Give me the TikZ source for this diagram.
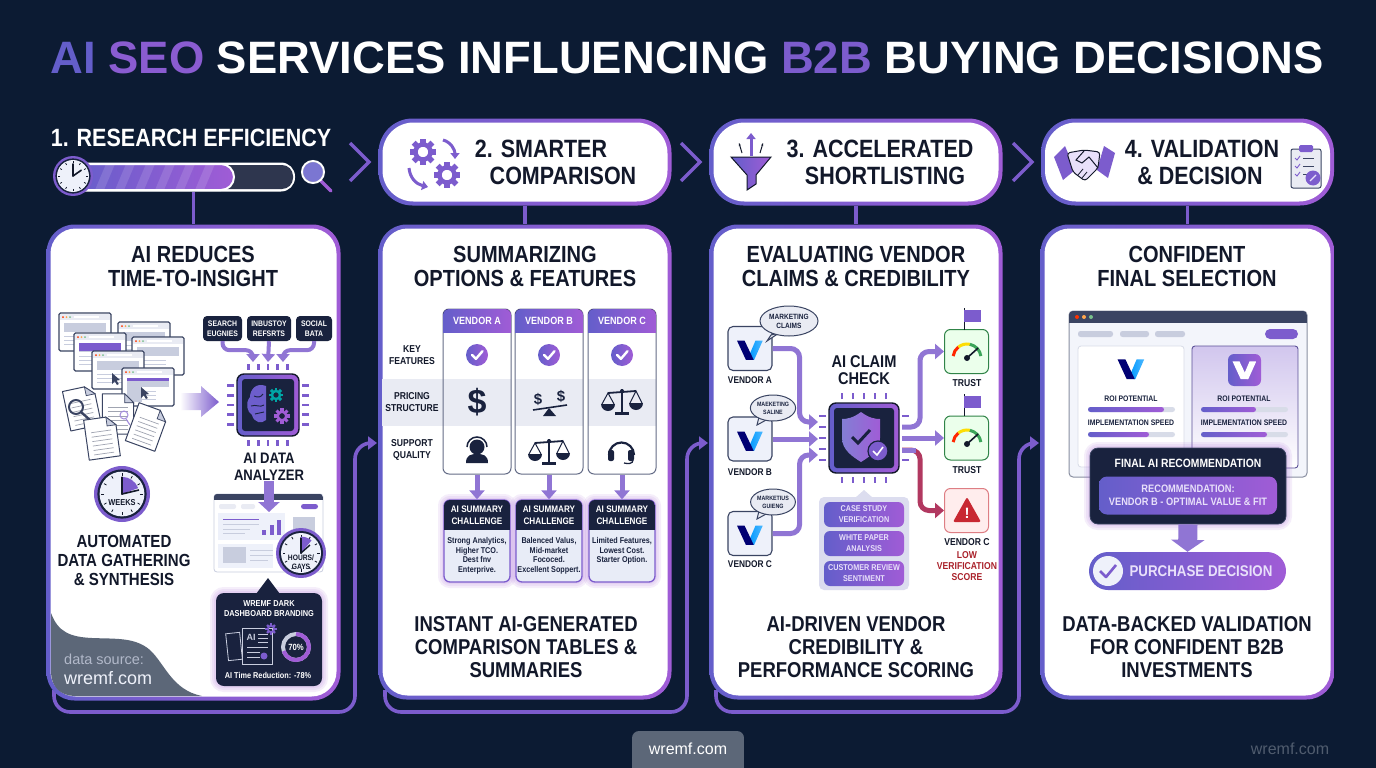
\documentclass[tikz,border=0pt]{standalone}
\usepackage{fontspec}
\setmainfont{Liberation Sans}
\newfontfamily\narrowfont[FakeStretch=0.86]{Liberation Sans}
\usetikzlibrary{arrows.meta,calc,shapes.geometric}
\definecolor{bgnavy}{RGB}{12,27,51}
\definecolor{inkdark}{RGB}{18,24,42}
\definecolor{blueV}{RGB}{100,94,202}
\definecolor{midV}{RGB}{124,92,205}
\definecolor{purpleV}{RGB}{160,92,214}
\definecolor{panelnavy}{RGB}{25,34,62}
\definecolor{slateline}{RGB}{58,68,98}
\definecolor{palegrey}{RGB}{200,205,222}
\definecolor{paleband}{RGB}{233,235,243}
\definecolor{paper}{RGB}{238,241,250}
\definecolor{lavtext}{RGB}{232,224,250}
\definecolor{sumbody}{RGB}{232,236,247}
\definecolor{patchgrey}{RGB}{92,103,120}
\definecolor{alertred}{RGB}{200,40,50}
\definecolor{okgreen}{RGB}{60,165,90}

% clipped top band of a rounded box
\newcommand{\headbox}[7]{%
  \begin{scope}
    \clip[rounded corners=#6] (#1,#2) rectangle (#3,#4);
    \fill[#7] (#1,#2) rectangle (#3,#5);
  \end{scope}}
\newcommand{\glowbox}[5]{%
  \foreach \gw in {12,8,4}{\draw[purpleV,opacity=.1,line width=\gw,rounded corners=#5] (#1,#2) rectangle (#3,#4);}}
% small browser window, 52 x 38
\newcommand{\winbox}[2]{%
  \begin{scope}[shift={(#1,#2)}]
    \draw[draw=slateline,fill=white,line width=1.1,rounded corners=1.5] (0,0) rectangle (52,38);
    \fill[paleband] (1,1) rectangle (51,7);
    \fill[red!60!orange] (4,4) circle (1);
    \fill[orange!70] (7.5,4) circle (1);
    \fill[okgreen!70] (11,4) circle (1);
    \fill[white] (15,2.6) rectangle (40,5.4);
    \fill[palegrey] (5,10) rectangle (47,19);
    \foreach \ly in {23,27,31}{\draw[palegrey,line width=.8] (5,\ly) -- (34,\ly);}
  \end{scope}}
\newcommand{\docsheet}[3]{%
  \begin{scope}[shift={(#1,#2)},rotate=#3,scale=1.12]
    \draw[draw=slateline,fill=white,line width=1,line join=round] (-14,-18) -- (6,-18) -- (14,-10) -- (14,18) -- (-14,18) -- cycle;
    \draw[draw=slateline,fill=palegrey,line width=.7] (6,-18) -- (6,-10) -- (14,-10) -- cycle;
    \foreach \ly in {-6,-2,2,6,10,14}{\draw[palegrey!80!black,line width=.7] (-9,\ly) -- (9,\ly);}
  \end{scope}}
\newcommand{\cursorarrow}[2]{%
  \fill[slateline] (#1,#2) -- (#1,#2+11) -- (#1+2.8,#2+8.4) -- (#1+5,#2+12) -- (#1+6.8,#2+11) -- (#1+4.6,#2+7.6) -- (#1+8,#2+7) -- cycle;}
\newcommand{\gearicon}[4]{%
  \foreach \ga in {0,45,...,315}{\draw[#4,line width=#3*.42] (#1,#2) ++(\ga:#3*.68) -- ++(\ga:#3*.34);}
  \draw[#4,line width=#3*.34] (#1,#2) circle ({#3*.58});}
% chip: name, x, y, half size
\newcommand{\chipbody}[4]{%
  \foreach \po in {-2,-1,0,1,2}{
    \draw[midV,line width=2.6] ($(#2,#3)+(\po*#4/3.2,-#4-4)$) -- ++(0,-6);
    \draw[midV,line width=2.6] ($(#2,#3)+(\po*#4/3.2,#4+4)$) -- ++(0,6);
    \draw[midV,line width=2.6] ($(#2,#3)+(-#4-3,\po*#4/3.2)$) -- ++(-7,0);
    \draw[midV,line width=2.6] ($(#2,#3)+(#4+3,\po*#4/3.2)$) -- ++(7,0);
  }
  \node[draw=inkdark,line width=1.4,left color=blueV,right color=purpleV,rounded corners=7,minimum size=2*#4] (#1) at (#2,#3) {};
  \fill[panelnavy,rounded corners=3] ($(#2,#3)+(-#4+5,-#4+5)$) rectangle ($(#2,#3)+(#4-5,#4-5)$);}
\newcommand{\clockface}[4]{%
  \fill[midV] (#1,#2) circle (#3);
  \fill[panelnavy] (#1,#2) circle ({#3*.88});
  \fill[paper] (#1,#2) circle ({#3*.8});
  \foreach \ca in {0,30,...,330}{\draw[inkdark,line width=.8] (#1,#2) ++(\ca:#3*.64) -- ++(\ca:#3*.1);}
  \draw[inkdark,line width=1.6,line cap=round] (#1,#2) -- ++(-90:#3*.6);
  \draw[inkdark,line width=1.6,line cap=round] (#1,#2) -- ++(#4:#3*.5);}
\newcommand{\clockwedge}[4]{%
  \fill[midV] (#1,#2) -- ++(-90:#3*.78) arc[start angle=-90,end angle=#4,radius=#3*.78] -- cycle;}
\newcommand{\vlogo}[5]{%
  \begin{scope}[shift={(#1,#2)},scale=#3]
    \shade[left color=#5,right color=#5!70!white] (.98,-.72) -- (.42,-.72) -- (-.1,.5) -- (.2,.75) -- (.32,.75) -- cycle;
    \fill[#4] (-1,-.72) -- (-.42,-.72) -- (.28,.75) -- (-.32,.75) -- cycle;
  \end{scope}}
\newcommand{\gaugeicon}[2]{%
  \draw[red!70!orange,line width=3] (#1,#2) ++(188:14) arc[start angle=188,end angle=232,radius=14];
  \draw[yellow!80!orange,line width=3] (#1,#2) ++(232:14) arc[start angle=232,end angle=282,radius=14];
  \draw[okgreen,line width=3] (#1,#2) ++(282:14) arc[start angle=282,end angle=352,radius=14];
  \draw[inkdark,line width=1.6] (#1,#2) -- ++(318:15);
  \fill[inkdark] (#1,#2) circle (3);}
\newcommand{\scaleicon}[2]{%
  \draw[panelnavy,line width=2] (#1,#2-13) -- (#1,#2+11);
  \fill[panelnavy] (#1-7,#2+10) rectangle (#1+7,#2+13);
  \draw[panelnavy,line width=1.8] (#1-14,#2-9) -- (#1+14,#2-11);
  \fill[panelnavy] (#1,#2-11) circle (2);
  \draw[panelnavy,line width=1] (#1-20,#2+2) -- (#1-14,#2-9) -- (#1-8,#2+2);
  \draw[panelnavy,line width=1] (#1+20,#2+1) -- (#1+14,#2-11) -- (#1+8,#2+1);
  \fill[panelnavy] (#1-21,#2+2) arc[start angle=180,end angle=0,radius=7];
  \fill[panelnavy] (#1+7,#2+1) arc[start angle=180,end angle=0,radius=7];}
\newcommand{\checkbadge}[3]{%
  \shade[left color=blueV,right color=purpleV] (#1,#2) circle (#3);
  \draw[white,line width=#3*.22,line cap=round,line join=round] (#1-#3*.45,#2) -- (#1-#3*.1,#2+#3*.35) -- (#1+#3*.5,#2-#3*.35);}

\begin{document}
\begin{tikzpicture}[x=1pt,y=-1pt]

\tikzstyle{mainhead} = [font=\fontsize{45.4}{50}\selectfont\bfseries, inner sep=0, text=white]
\tikzstyle{stephead} = [font=\fontsize{25}{27}\selectfont\bfseries\narrowfont, inner sep=0, text=inkdark, align=center]
\tikzstyle{cardtitle} = [font=\fontsize{23.3}{24}\selectfont\bfseries\narrowfont, inner sep=0, text=inkdark, align=center]
\tikzstyle{closetitle} = [font=\fontsize{21.5}{23}\selectfont\bfseries\narrowfont, inner sep=0, text=inkdark, align=center]
\tikzstyle{subtitle} = [font=\fontsize{17.5}{19}\selectfont\bfseries\narrowfont, inner sep=0, text=inkdark, align=center]
\tikzstyle{tagtext} = [font=\fontsize{10}{12}\selectfont\bfseries\narrowfont, inner sep=0, text=inkdark, align=center]
\tikzstyle{whitetag} = [tagtext, text=white]
\tikzstyle{sumtext} = [font=\fontsize{8.4}{9.6}\selectfont\bfseries\narrowfont, inner sep=0, text=panelnavy, align=center]
\tikzstyle{scoretext} = [sumtext, font=\fontsize{8}{9.6}\selectfont\bfseries\narrowfont]
\tikzstyle{cardouter} = [left color=blueV, right color=purpleV, rounded corners=28, inner sep=0]
\tikzstyle{cardinner} = [fill=white, rounded corners=25, inner sep=0]
\tikzstyle{pillouter} = [left color=blueV, right color=purpleV, rounded corners=34, minimum width=293, minimum height=87, inner sep=0]
\tikzstyle{pillinner} = [fill=white, rounded corners=31, minimum width=285, minimum height=79, inner sep=0]
\tikzstyle{tiebar} = [midV, line width=3.6]
\tikzstyle{backflow} = [midV, line width=3.6, rounded corners=16, -{Triangle[width=13pt,length=9pt]}]
\tikzstyle{chevron} = [midV, line width=3.4, line join=miter]
\tikzstyle{fatflow} = [midV!85!white, line width=5, rounded corners=9, -{Triangle[width=15pt,length=9pt]}]
\tikzstyle{thinflow} = [midV!85!white, line width=4, rounded corners=7, -{Triangle[width=13pt,length=8pt]}]
\tikzstyle{srcbox} = [fill=panelnavy, rounded corners=4, inner sep=0, minimum height=25, whitetag, font=\fontsize{8}{10.5}\selectfont\bfseries\narrowfont]
\tikzstyle{vendorbox} = [draw=slateline, line width=1.1, fill=paper, rounded corners=5, minimum size=44, inner sep=0]
\tikzstyle{claimcloud} = [draw=slateline, line width=1, fill=paleband, ellipse, inner sep=0, text=panelnavy, align=center, font=\fontsize{7.6}{9}\selectfont\bfseries\narrowfont]
\tikzstyle{sumbox} = [draw=midV, line width=1.3, fill=sumbody, rounded corners=6, minimum width=66, minimum height=82, inner sep=0]
\tikzstyle{colframe} = [draw=slateline!70!palegrey, line width=1, rounded corners=6, minimum width=68, minimum height=165, inner sep=0]
\tikzstyle{proofbtn} = [left color=blueV, right color=purpleV, rounded corners=6, minimum width=80, minimum height=25, inner sep=0, text=lavtext, align=center, font=\fontsize{8.4}{11}\selectfont\bfseries\narrowfont]

\useasboundingbox (0,0) rectangle (1376,768);

% =========================
% background and main heading
% =========================
\fill[bgnavy] (0,0) rectangle (1376,768);
\node[mainhead] (mainTitle) at (687,58) {\textcolor{blueV}{AI} \textcolor{midV!60!purpleV}{SEO} SERVICES INFLUENCING \textcolor{midV}{B2B} BUYING DECISIONS};

% =========================
% back lines running under the cards
% =========================
\coordinate (backA) at (54,690);
\coordinate (cornerA) at (355,712);
\coordinate (entryB) at (377,443);
\coordinate (backB) at (385,690);
\coordinate (cornerB) at (687,712);
\coordinate (entryC) at (708,443);
\coordinate (backC) at (716,690);
\coordinate (cornerC) at (1019,712);
\coordinate (entryD) at (1039,443);
\draw[backflow] (backA) |- (cornerA) |- (entryB);
\draw[backflow] (backB) |- (cornerB) |- (entryC);
\draw[backflow] (backC) |- (cornerC) |- (entryD);

% =========================
% step headings
% =========================
\node[pillouter] (pillB) at (525,162) {};
\node[pillinner] at (525,162) {};
\node[pillouter] (pillC) at (856,162) {};
\node[pillinner] at (856,162) {};
\node[pillouter] (pillD) at (1187.5,162) {};
\node[pillinner] at (1187.5,162) {};

\node[stephead,text=white] (stepA) at (191,138) {1. RESEARCH EFFICIENCY};
\node[stephead] (stepB1) at (541,149) {2. SMARTER};
\node[stephead] (stepB2) at (563,176) {COMPARISON};
\node[stephead] (stepC1) at (880,149) {3. ACCELERATED};
\node[stephead] (stepC2) at (885,176) {SHORTLISTING};
\node[stephead] (stepD1) at (1202,149) {4. VALIDATION};
\node[stephead] (stepD2) at (1200,176) {\& DECISION};

\foreach \chx in {350,681,1013}{
  \draw[chevron] (\chx,143) -- (\chx+19,162) -- (\chx,181);
}

% progress bar of step 1
\node[fill=white,rounded corners=14,minimum width=228,minimum height=29,inner sep=0] (barA) at (181,177) {};
\fill[slateline!80!black,rounded corners=11] (70,165) rectangle (293,189);
\begin{scope}
  \clip[rounded corners=13] (60,164) rectangle (234,190);
  \shade[left color=blueV,right color=purpleV] (70,164) rectangle (234,190);
  \foreach \stx in {95,115,135,155,175,195}{
    \fill[white,opacity=.13] (\stx,190) -- (\stx+9,190) -- (\stx+20,164) -- (\stx+11,164) -- cycle;
  }
\end{scope}
\draw[white,line width=2,rounded corners=13] (60,164) rectangle (234,190);
\clockface{73}{176}{20}{-35}
\draw[purpleV,line width=3.2,line cap=round] (320,180) -- (331,191);
\fill[blueV!85!white] (313,172) circle (10);
\draw[white,line width=2] (313,172) circle (11);

% =========================
% cards
% =========================
\node[cardouter,minimum width=294,minimum height=476] (cardA) at (193.5,462.5) {};
\node[cardinner,minimum width=286,minimum height=468] at (193.5,462.5) {};
\node[cardouter,minimum width=293,minimum height=475] (cardB) at (525,462) {};
\node[cardinner,minimum width=285,minimum height=467] at (525,462) {};
\node[cardouter,minimum width=293,minimum height=475] (cardC) at (856,462) {};
\node[cardinner,minimum width=285,minimum height=467] at (856,462) {};
\node[cardouter,minimum width=294,minimum height=475] (cardD) at (1187.5,462) {};
\node[cardinner,minimum width=286,minimum height=467] at (1187.5,462) {};

\draw[tiebar] (cardA.north |- barA.south) -- (cardA.north);
\draw[tiebar] (pillB.south) -- (cardB.north);
\draw[tiebar] (pillC.south) -- (cardC.north);
\draw[tiebar] (pillD.south) -- (cardD.north);

\node[cardtitle] (titleA) at (193,266) {AI REDUCES\\TIME-TO-INSIGHT};
\node[cardtitle] (titleB) at (525,266) {SUMMARIZING\\OPTIONS \& FEATURES};
\node[cardtitle] (titleC) at (856,266) {EVALUATING VENDOR\\CLAIMS \& CREDIBILITY};
\node[cardtitle] (titleD) at (1187,266) {CONFIDENT\\FINAL SELECTION};

% =========================
% card 1 - documents and windows
% =========================
\winbox{59}{313}
\winbox{118}{322}
\winbox{74}{333}
\fill[midV] (79,343) rectangle (121,351);
\winbox{132}{337}
\winbox{92}{351}
\cursorarrow{112}{373}
\winbox{122}{368}
\fill[midV] (127,378) rectangle (169,381);
\fill[palegrey] (127,385) rectangle (142,402);
\cursorarrow{141}{387}
\docsheet{118}{414}{0}
\draw[midV!70!white,line width=1] (124,415) circle (4);
\draw[midV!70!white,line width=1.2] (126,419) -- (130,425);
\docsheet{82}{408}{12}
\draw[slateline,line width=2] (76,407) circle (7);
\draw[slateline,line width=2.4] (81,412) -- (90,420);
\docsheet{102}{438}{8}
\docsheet{147}{427}{-20}

\shade[left color=white,right color=midV] (180,393) -- (201,393) -- (201,386) -- (219,402) -- (201,417) -- (201,410) -- (180,410) -- cycle;

\clockface{122}{494}{28}{-90}
\clockwedge{122}{494}{22}{-20}
\draw[inkdark,line width=1.6] (122,494) -- ++(-90:17);
\draw[inkdark,line width=1.6] (122,494) -- (139,490);
\node[tagtext,font=\fontsize{8.6}{10}\selectfont\bfseries\narrowfont] (weeksLabel) at (122,503) {WEEKS};
\node[subtitle] (autoTitle) at (124,560) {AUTOMATED\\DATA GATHERING\\\& SYNTHESIS};

% grey patch with the source note
\fill[patchgrey] (51,613) .. controls (58,632) and (70,637) .. (92,638) .. controls (115,639) and (135,637) .. (150,650) .. controls (165,664) and (172,690) .. (202,696) -- (75,696) .. controls (60,696) and (51,686) .. (51,672) -- cycle;
\node[inner sep=0,anchor=west,text=palegrey!80!patchgrey,font=\fontsize{14.5}{16}\selectfont] (srcNote) at (64,659) {data source:};
\node[inner sep=0,anchor=west,text=paper,font=\fontsize{18}{20}\selectfont] (srcSite) at (64,678) {wremf.com};

% =========================
% card 1 - AI data analyzer
% =========================
\node[srcbox,minimum width=39] (srcSearch) at (222.5,328.5) {SEARCH\\EUGNIES};
\node[srcbox,minimum width=44] (srcReports) at (269,328.5) {INBUSTOY\\REFSRTS};
\node[srcbox,minimum width=36] (srcSocial) at (314,328.5) {SOCIAL\\BATA};
\coordinate (padA) at (253,362);
\coordinate (padB) at (268,362);
\coordinate (padC) at (283,362);
\draw[thinflow] (srcSearch.south) -- ++(0,9) -| (padA);
\draw[thinflow] (srcReports.south) -- (padB);
\draw[thinflow] (srcSocial.south) -- ++(0,9) -| (padC);
\chipbody{chipA}{268}{405}{31}
\fill[blueV!85!purpleV] (266,386) .. controls (256,382) and (250,390) .. (250,397) .. controls (245,403) and (247,412) .. (252,415) .. controls (254,423) and (262,424) .. (266,420) -- cycle;
\draw[panelnavy,line width=.9] (254,396) .. controls (258,398) and (261,397) .. (263,394);
\draw[panelnavy,line width=.9] (251,406) .. controls (256,404) and (260,408) .. (264,405);
\draw[panelnavy,line width=.9] (255,414) .. controls (258,412) and (261,414) .. (264,412);
\gearicon{276}{395}{7}{teal!70!cyan}
\gearicon{282}{416}{7.5}{purpleV}
\node[subtitle,font=\fontsize{15.2}{16.5}\selectfont\bfseries\narrowfont] (analyzerLabel) at (269,467) {AI DATA\\ANALYZER};

\node[draw=palegrey,fill=white,line width=.8,rounded corners=3,minimum width=109,minimum height=78,inner sep=0] (dashA) at (268.5,533) {};
\headbox{214}{494}{323}{572}{500}{3}{slateline}
\fill[paleband,rounded corners=2] (219,504) rectangle (236,509);
\fill[paleband,rounded corners=2] (241,504) rectangle (255,509);
\fill[midV,rounded corners=2.5] (301,504) rectangle (318,509);
\fill[paper] (218,513) rectangle (285,540);
\draw[midV,line width=1] (223,519) -- (259,519);
\draw[palegrey,line width=1] (223,524) -- (259,524);
\draw[palegrey,line width=1] (223,529) -- (250,529);
\draw[palegrey,line width=1] (223,533) -- (245,533);
\fill[midV] (262,530) rectangle (266,535);
\fill[midV] (270,525) rectangle (274,535);
\fill[midV] (277,520) rectangle (281,535);
\fill[palegrey] (293,517) rectangle (315,537);
\fill[paper] (218,544) rectangle (273,568);
\fill[palegrey] (223,547) rectangle (246,563);
\draw[palegrey,line width=1] (250,550) -- (273,550);
\draw[palegrey,line width=1] (250,555) -- (273,555);
\draw[palegrey,line width=1] (250,560) -- (268,560);
\coordinate (dashIn) at (269,512);
\draw[midV!85!white,line width=10,-{Triangle[width=21pt,length=10pt]}] (analyzerLabel.south) -- (dashIn);
\clockface{301}{553}{25}{-90}
\clockwedge{301}{553}{21}{-50}
\draw[inkdark,line width=1.4] (301,553) -- ++(-90:15);
\draw[inkdark,line width=1.4] (301,553) -- (310,545);
\node[tagtext,font=\fontsize{7.8}{8.6}\selectfont\bfseries\narrowfont] (hoursLabel) at (301,562) {HOURS/\\GAYS};

\glowbox{216}{593}{322}{686}{8}
\node[fill=panelnavy,rounded corners=8,minimum width=106,minimum height=93,inner sep=0] (brandA) at (269,639.5) {};
\fill[panelnavy] (268,578) -- (256,594) -- (280,594) -- cycle;
\node[whitetag,font=\fontsize{8.6}{10}\selectfont\bfseries\narrowfont] (brandLabel) at (269,609) {WREMF DARK\\DASHBOARD BRANDING};
\draw[palegrey,line width=.8,rotate around={6:(234,646)}] (227,633) rectangle (241,660);
\draw[palegrey,fill=panelnavy,line width=1] (242,628) rectangle (272,664);
\node[text=palegrey,inner sep=0,font=\fontsize{9}{10}\selectfont\bfseries] (aiTag) at (251,637) {AI};
\foreach \dly in {634,638,642,647}{\draw[palegrey,line width=.8] (258,\dly) -- (268,\dly);}
\foreach \dly in {647,652,657}{\draw[palegrey,line width=.8] (247,\dly) -- (260,\dly);}
\fill[midV] (264,656) circle (3.5);
\gearicon{271}{629}{5.5}{midV}
\draw[palegrey,line width=4] (296,647) circle (13);
\draw[purpleV,line width=4] (296,647) ++(-90:13) arc[start angle=-90,end angle=162,radius=13];
\node[whitetag,font=\fontsize{9}{10}\selectfont\bfseries\narrowfont] (pctLabel) at (296,647) {70\%};
\node[whitetag,font=\fontsize{8.5}{10}\selectfont\bfseries\narrowfont] (timeLabel) at (268,675) {AI Time Reduction: -78\%};

% =========================
% card 2 - comparison table
% =========================
\foreach \bx/\bw in {382/129,515/68,588/68}{
  \fill[paleband] (\bx,379) rectangle (\bx+\bw,426);
}
\node[colframe] (colA) at (477,391.5) {};
\node[colframe] (colB) at (549,391.5) {};
\node[colframe] (colC) at (622,391.5) {};
\foreach \hx/\hname in {443/A,515/B,588/C}{
  \headbox{\hx}{309}{\hx+68}{474}{332}{6}{left color=blueV,right color=purpleV}
  \node[whitetag,font=\fontsize{10.5}{12}\selectfont\bfseries\narrowfont] at (\hx+34,320.5) {VENDOR \hname};
}
\node[tagtext] (rowKey) at (412,355) {KEY\\FEATURES};
\node[tagtext] (rowPrice) at (412,402) {PRICING\\STRUCTURE};
\node[tagtext] (rowCare) at (412,450) {SUPPORT\\QUALITY};
\checkbadge{477}{355}{11}
\checkbadge{549}{355}{11}
\checkbadge{622}{355}{11}

\node[text=panelnavy,inner sep=0,font=\fontsize{34}{36}\selectfont\bfseries] (costA) at (477,402) {\$};
\node[text=panelnavy,inner sep=0,font=\fontsize{15}{16}\selectfont\bfseries] (costB1) at (538,399) {\$};
\node[text=panelnavy,inner sep=0,font=\fontsize{15}{16}\selectfont\bfseries] (costB2) at (561,396) {\$};
\draw[panelnavy,line width=1.6] (533,410) -- (567,405);
\fill[panelnavy] (549,408) -- (543,416) -- (556,416) -- cycle;
\scaleicon{622}{402}
\scaleicon{549}{452}
% headset person
\fill[panelnavy] (477,447) circle (7.5);
\draw[panelnavy,line width=1.5] (477,447) ++(180:10) arc[start angle=180,end angle=360,radius=10];
\fill[panelnavy] (466,463) .. controls (466,455) and (471,454) .. (477,454) .. controls (483,454) and (488,455) .. (488,463) -- cycle;
% headset
\draw[panelnavy,line width=2.2] (609,455) arc[start angle=180,end angle=360,radius=12.5];
\fill[panelnavy,rounded corners=2] (608,450) rectangle (614,461);
\fill[panelnavy,rounded corners=2] (628,450) rectangle (634,461);
\draw[panelnavy,line width=1.3] (633,460) .. controls (633,464) and (628,464) .. (624,463);

\foreach \sx/\sname in {477/A,549/B,622/C}{
  \glowbox{\sx-33}{500}{\sx+33}{582}{6}
  \node[sumbox] (sum\sname) at (\sx,541) {};
  \headbox{\sx-33}{500}{\sx+33}{582}{530}{6}{panelnavy}
  \node[whitetag,font=\fontsize{9.5}{11.5}\selectfont\bfseries\narrowfont] at (\sx,515) {AI SUMMARY\\CHALLENGE};
}
\draw[fatflow] (colA.south) -- (sumA.north);
\draw[fatflow] (colB.south) -- (sumB.north);
\draw[fatflow] (colC.south) -- (sumC.north);
\node[sumtext] (noteA) at (477,556) {Strong Analytics,\\Higher TCO.\\Dest fnv\\Enterprive.};
\node[sumtext] (noteB) at (549,556) {Balenced Valus,\\Mid-market\\Fococed.\\Excellent Soppert.};
\node[sumtext] (noteC) at (622,551) {Limited Features,\\Lowest Cost.\\Starter Option.};
\node[closetitle] (closeB) at (526,647) {INSTANT AI-GENERATED\\COMPARISON TABLES \&\\SUMMARIES};

% =========================
% card 3 - claim check
% =========================
\node[vendorbox] (firmA) at (750,348.5) {};
\node[vendorbox] (firmB) at (750,439) {};
\node[vendorbox] (firmC) at (750,533.5) {};
\vlogo{750}{350}{13}{blue!45!black}{cyan!60!blue}
\vlogo{750}{441}{13}{blue!45!black}{cyan!60!blue}
\vlogo{750}{535}{13}{blue!45!black}{cyan!60!blue}
\node[tagtext,font=\fontsize{9.7}{12}\selectfont\bfseries\narrowfont] (firmAname) at (750,380) {VENDOR A};
\node[tagtext,font=\fontsize{9.7}{12}\selectfont\bfseries\narrowfont] (firmBname) at (750,472) {VENDOR B};
\node[tagtext,font=\fontsize{9.7}{12}\selectfont\bfseries\narrowfont] (firmCname) at (750,564) {VENDOR C};
\fill[paleband,draw=slateline,line width=1] (771,335) -- (767,341) -- (779,333) -- cycle;
\node[claimcloud,minimum width=58,minimum height=30] (cloudA) at (789,321) {MARKETING\\CLAIMS};
\fill[paleband,draw=slateline,line width=1] (759,417) -- (757,425) -- (768,419) -- cycle;
\node[claimcloud,minimum width=42,minimum height=26,font=\fontsize{6.2}{8}\selectfont\bfseries\narrowfont] (cloudB) at (773,408) {MAEKETING\\SALINE};
\fill[paleband,draw=slateline,line width=1] (759,511) -- (757,519) -- (768,513) -- cycle;
\node[claimcloud,minimum width=42,minimum height=26,font=\fontsize{6.2}{8}\selectfont\bfseries\narrowfont] (cloudC) at (773,502) {MARKETIUS\\GUIENG};

\chipbody{chipB}{864}{438}{35}
\begin{scope}[shift={(861,436)}]
  \shade[left color=blueV!80!white,right color=purpleV] (0,-24) .. controls (-8,-18) and (-14,-17) .. (-19,-17) -- (-19,2) .. controls (-19,14) and (-8,21) .. (0,26) .. controls (8,21) and (19,14) .. (19,2) -- (19,-17) .. controls (14,-17) and (8,-18) .. (0,-24) -- cycle;
  \draw[panelnavy,line width=3] (-9,1) -- (-3,7) -- (9,-6);
\end{scope}
\fill[midV] (878,451) circle (10);
\draw[panelnavy,line width=1.2] (878,451) circle (10);
\draw[white,line width=1.6] (873,451) -- (877,455) -- (883,447);
\node[subtitle,font=\fontsize{17}{17}\selectfont\bfseries\narrowfont] (claimLabel) at (864,370.5) {AI CLAIM\\CHECK};

\coordinate (pinA) at (818,422);
\coordinate (pinB) at (818,439);
\coordinate (pinC) at (818,455);
\coordinate (pinTop) at (902,427);
\coordinate (pinMid) at (902,438);
\coordinate (pinLow) at (902,450);
\draw[fatflow] (firmA.east) -- ++(27,0) |- (pinA);
\draw[fatflow] (firmB.east) -- (pinB);
\draw[fatflow] (firmC.east) -- ++(27,0) |- (pinC);

\node[draw=okgreen!80!black,line width=1,fill=green!8,rounded corners=6,minimum size=44,inner sep=0] (trustA) at (966.5,351.5) {};
\node[draw=okgreen!80!black,line width=1,fill=green!8,rounded corners=6,minimum size=44,inner sep=0] (trustB) at (966.5,438) {};
\node[draw=alertred!60,line width=1,fill=red!7,rounded corners=6,minimum size=44,inner sep=0] (alertC) at (966.5,510.5) {};
\draw[fatflow] (pinTop) -| ++(18,-60) |- (trustA.west);
\draw[fatflow] (pinMid) -- (trustB.west);
\draw[fatflow,alertred!70!midV] (pinLow) -- ++(18,0) |- (alertC.west);
\draw[midV!85!white,line width=5] (pinLow) -- ++(14,0);

\draw[inkdark,line width=1] (964,330) -- (964,308);
\fill[midV] (964,310) rectangle (981,322);
\draw[inkdark,line width=1] (964,416) -- (964,394);
\fill[midV] (964,396) rectangle (981,408);
\gaugeicon{967}{358}
\gaugeicon{967}{444}
\fill[alertred,rounded corners=2] (967,497) -- (981,522) -- (953,522) -- cycle;
\node[text=white,inner sep=0,font=\fontsize{15}{15}\selectfont\bfseries] (alertMark) at (967,513) {!};
\node[tagtext] (trustAname) at (967,383) {TRUST};
\node[tagtext] (trustBname) at (967,470) {TRUST};
\node[tagtext] (alertName) at (967,542) {VENDOR C};
\node[tagtext,text=alertred!85!black,font=\fontsize{10}{11}\selectfont\bfseries\narrowfont] (alertNote) at (967,566) {LOW\\VERIFICATION\\SCORE};

\fill[paleband!90!blueV,rounded corners=5] (819,497) rectangle (909,590);
\fill[paleband!90!blueV] (864,490) -- (855,498) -- (873,498) -- cycle;
\node[proofbtn] (proofA) at (864,514.5) {CASE STUDY\\VERIFICATION};
\node[proofbtn] (proofB) at (864,543.5) {WHITE PAPER\\ANALYSIS};
\node[proofbtn] (proofC) at (864,573.5) {CUSTOMER REVIEW\\SENTIMENT};
\node[closetitle] (closeC) at (856,647) {AI-DRIVEN VENDOR\\CREDIBILITY \&\\PERFORMANCE SCORING};

% =========================
% card 4 - final selection
% =========================
\node[draw=slateline!60,fill=paper!70!white,line width=1,rounded corners=4,minimum width=238,minimum height=166,inner sep=0] (shotD) at (1188,394) {};
\headbox{1069}{311}{1307}{477}{323}{4}{slateline}
\fill[red!60!orange] (1077,317) circle (2);
\fill[orange!70] (1084,317) circle (2);
\fill[okgreen!70] (1091,317) circle (2);
\fill[palegrey,rounded corners=2.5] (1078,331) rectangle (1113,337);
\fill[palegrey,rounded corners=2.5] (1120,331) rectangle (1149,337);
\fill[palegrey,rounded corners=2.5] (1155,331) rectangle (1185,337);
\fill[midV,rounded corners=5] (1265,329) rectangle (1298,339);
\draw[palegrey!70,fill=white,line width=.8,rounded corners=3] (1078,346) rectangle (1184,467);
\shade[top color=midV!35!white,bottom color=white,rounded corners=3] (1192,346) rectangle (1298,468);
\draw[slateline!50!midV,line width=.9,rounded corners=3] (1192,346) rectangle (1298,468);
\vlogo{1131}{369}{13.5}{blue!45!black}{cyan!60!blue}
\shade[left color=blueV,right color=purpleV,rounded corners=6] (1228,354) rectangle (1261,386);
\vlogo{1244.5}{370}{12}{white}{white}

\node[scoretext] (roiL) at (1131,399) {ROI POTENTIAL};
\node[scoretext] (roiR) at (1244,399) {ROI POTENTIAL};
\node[scoretext] (speedL) at (1131,423) {IMPLEMENTATION SPEED};
\node[scoretext] (speedR) at (1244,423) {IMPLEMENTATION SPEED};
\foreach \bax/\bay/\baw in {1088/407/76,1088/432/61,1201/407/55,1201/432/66}{
  \fill[palegrey!70,rounded corners=2.5] (\bax,\bay) rectangle (\bax+87,\bay+5);
  \shade[left color=blueV,right color=purpleV,rounded corners=2.5] (\bax,\bay) rectangle (\bax+\baw,\bay+5);
}

\glowbox{1090}{448}{1286}{524}{8}
\node[draw=slateline,line width=.8,fill=panelnavy,rounded corners=8,minimum width=196,minimum height=76,inner sep=0] (finalD) at (1188,486) {};
\node[whitetag,font=\fontsize{12}{14}\selectfont\bfseries\narrowfont] (finalLabel) at (1188,463) {FINAL AI RECOMMENDATION};
\node[left color=blueV,right color=purpleV,rounded corners=8,minimum width=178,minimum height=38,inner sep=0,text=lavtext,align=center,font=\fontsize{10.8}{13}\selectfont\bfseries\narrowfont] (verdictD) at (1188,495.5) {RECOMMENDATION:\\VENDOR B - OPTIMAL VALUE \& FIT};
\node[left color=blueV,right color=purpleV,rounded corners=19,minimum width=197,minimum height=38,inner sep=0] (buyD) at (1187.5,571) {};
\draw[midV!85!white,line width=19,-{Triangle[width=33pt,length=12pt]}] (finalD.south) -- (buyD.north);
\fill[paper] (1108,571) circle (15);
\draw[midV,line width=2.6,line join=round] (1100,571) -- (1106,577) -- (1116,565);
\node[inner sep=0,text=lavtext,font=\fontsize{15.5}{18}\selectfont\bfseries\narrowfont] (buyLabel) at (1201,571) {PURCHASE DECISION};
\node[closetitle] (closeD) at (1187,647) {DATA-BACKED VALIDATION\\FOR CONFIDENT B2B\\INVESTMENTS};

% =========================
% step icons
% =========================
\gearicon{423}{152}{13}{midV}
\gearicon{447}{175}{13}{midV}
\draw[midV,line width=3,-{Triangle[width=9pt,length=6pt]}] (443,140) .. controls (451,142) and (455,150) .. (455,159);
\draw[midV,line width=3,-{Triangle[width=9pt,length=6pt]}] (409,168) .. controls (410,178) and (416,184) .. (428,187);

\shade[left color=blueV,right color=purpleV] (731,157) -- (771,157) -- (756,175) -- (756,184) -- (747,190) -- (747,175) -- cycle;
\draw[inkdark,line width=1] (731,157) -- (771,157) -- (756,175) -- (756,184) -- (747,190) -- (747,175) -- cycle;
\draw[midV,line width=3,-{Triangle[width=9pt,length=6pt]}] (751,156) -- (751,133);
\draw[inkdark,line width=1,-{Stealth[length=3pt]}] (742,153) -- (739,143);
\draw[inkdark,line width=1,-{Stealth[length=3pt]}] (760,153) -- (763,143);

\fill[midV] (1054,157) -- (1065,146) -- (1075,170) -- (1063,180) -- cycle;
\fill[midV] (1115,153) -- (1104,146) -- (1097,170) -- (1108,178) -- cycle;
\draw[inkdark,line width=1,fill=lavtext,rounded corners=3] (1067,153) -- (1084,150) -- (1100,152) -- (1098,168) -- (1085,181) -- (1073,172) -- cycle;
\draw[inkdark,line width=1] (1084,151) -- (1076,160) -- (1082,163) -- (1089,157) -- (1098,168);
\draw[inkdark,line width=.8] (1078,175) -- (1083,169);
\draw[inkdark,line width=.8] (1082,178) -- (1087,172);

\draw[slateline,line width=1,fill=paleband,rounded corners=2] (1291,149) rectangle (1321,188);
\fill[midV,rounded corners=1.5] (1299,145) rectangle (1313,152);
\foreach \cly in {158,166,174}{
  \draw[midV,line width=.9] (1295,\cly) -- (1297,\cly+2) -- (1300,\cly-2);
  \draw[slateline,line width=.9] (1303,\cly) -- (1314,\cly);
}
\fill[midV] (1313,178) circle (7.5);
\draw[lavtext,line width=1.2] (1310,181) -- (1316,175);

% =========================
% site marks
% =========================
\headbox{632}{731}{744}{790}{768}{7}{patchgrey}
\node[inner sep=0,text=white,font=\fontsize{16}{18}\selectfont] (siteBadge) at (688,749) {wremf.com};
\node[inner sep=0,text=patchgrey!85!bgnavy,font=\fontsize{16}{18}\selectfont] (siteMark) at (1290,749) {wremf.com};

\end{tikzpicture}
\end{document}
